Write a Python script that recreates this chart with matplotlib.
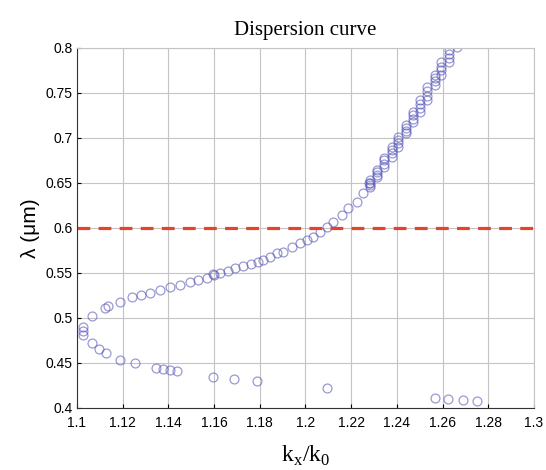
import numpy as np
import matplotlib.pyplot as plt

# upper (guided) branch: kx/k0 and wavelength in um
kx_upper = [1.1026, 1.1026, 1.1026, 1.1066, 1.1123, 1.1135, 1.1188, 1.1240, 1.1280,
            1.1320, 1.1363, 1.1407, 1.1450, 1.1495, 1.1530, 1.1570, 1.1595, 1.1600,
            1.1626, 1.1660, 1.1690, 1.1727, 1.1760, 1.1790, 1.1814, 1.1845, 1.1875,
            1.1900, 1.1940, 1.1976, 1.2007, 1.2033, 1.2063, 1.2094, 1.2120, 1.2160,
            1.2186, 1.2225, 1.2252, 1.2280,
            1.2282, 1.2282, 1.2282, 1.2282,
            1.2312, 1.2312, 1.2312, 1.2312,
            1.2344, 1.2344, 1.2344, 1.2344,
            1.2377, 1.2377, 1.2377, 1.2377,
            1.2406, 1.2406, 1.2406, 1.2406,
            1.2440, 1.2440, 1.2440, 1.2440,
            1.2469, 1.2469, 1.2469, 1.2469,
            1.2501, 1.2501, 1.2501, 1.2501,
            1.2530, 1.2530, 1.2530, 1.2530,
            1.2567, 1.2567, 1.2567, 1.2567,
            1.2593, 1.2593, 1.2593, 1.2593,
            1.2626, 1.2626, 1.2626, 1.2626,
            1.2662]
lam_upper = [0.490, 0.486, 0.481, 0.502, 0.511, 0.513, 0.518, 0.523, 0.526,
             0.528, 0.531, 0.534, 0.537, 0.540, 0.542, 0.544, 0.549, 0.548,
             0.550, 0.552, 0.556, 0.558, 0.560, 0.562, 0.564, 0.568, 0.572,
             0.573, 0.579, 0.583, 0.587, 0.590, 0.596, 0.601, 0.607, 0.614,
             0.622, 0.629, 0.639, 0.650,
             0.653, 0.650, 0.648, 0.645,
             0.664, 0.662, 0.659, 0.657,
             0.678, 0.675, 0.671, 0.668,
             0.690, 0.687, 0.683, 0.679,
             0.701, 0.698, 0.694, 0.690,
             0.714, 0.711, 0.708, 0.705,
             0.729, 0.725, 0.721, 0.718,
             0.742, 0.738, 0.733, 0.729,
             0.757, 0.752, 0.747, 0.742,
             0.770, 0.767, 0.763, 0.759,
             0.784, 0.779, 0.775, 0.770,
             0.798, 0.793, 0.789, 0.784,
             0.801]

# lower branch
kx_lower = [1.1066, 1.1096, 1.1127, 1.1188, 1.1254, 1.1346, 1.1376, 1.1407, 1.1438,
            1.1595, 1.1687, 1.1788, 1.2094, 1.2567, 1.2624, 1.2690, 1.2751]
lam_lower = [0.472, 0.466, 0.461, 0.453, 0.450, 0.444, 0.443, 0.442, 0.441,
             0.434, 0.432, 0.430, 0.422, 0.411, 0.410, 0.409, 0.408]

lam_cut = 0.6

fig = plt.figure(figsize=(5.46, 4.70), dpi=100)
ax = fig.add_axes([0.141, 0.132, 0.837, 0.766])

mk = dict(ls='none', marker='o', ms=6.4, mfc='none', mec='#5656b8', mew=0.9, alpha=0.6)
ax.plot(kx_upper, lam_upper, **mk)
ax.plot(kx_lower, lam_lower, **mk)

ax.plot([1.1, 1.3], [lam_cut, lam_cut], color='#e2442c', lw=2.3, dashes=(4, 2.6))

ax.set_xlim(1.1, 1.3)
ax.set_ylim(0.4, 0.8)
ax.set_xticks(np.arange(1.1, 1.3001, 0.02))
ax.set_xticklabels(['1.1', '1.12', '1.14', '1.16', '1.18', '1.2',
                    '1.22', '1.24', '1.26', '1.28', '1.3'])
ax.set_yticks(np.arange(0.4, 0.8001, 0.05))
ax.set_yticklabels(['0.4', '0.45', '0.5', '0.55', '0.6', '0.65', '0.7', '0.75', '0.8'])

ax.grid(True, color='#c4c4c4', lw=0.8)
ax.set_axisbelow(True)
ax.tick_params(direction='in', length=3, width=0.8, labelsize=10)
ax.tick_params(axis='x', pad=6)
ax.tick_params(axis='y', pad=3)
for lab in ax.get_xticklabels() + ax.get_yticklabels():
    lab.set_family('Liberation Sans')
for s in ['top', 'right']:
    ax.spines[s].set_color('#c4c4c4')
for s in ['left', 'bottom']:
    ax.spines[s].set_color('#333333')
    ax.spines[s].set_linewidth(0.8)

ax.set_title('Dispersion curve', family='Liberation Serif', fontsize=15, pad=9)
ax.set_xlabel(r'k$_\mathregular{x}$/k$_\mathregular{0}$', family='Liberation Serif',
              fontsize=17, labelpad=10)
ax.set_ylabel('λ (μm)', family='Liberation Sans', fontsize=15, labelpad=4)

fig.savefig('out.png', dpi=100)
